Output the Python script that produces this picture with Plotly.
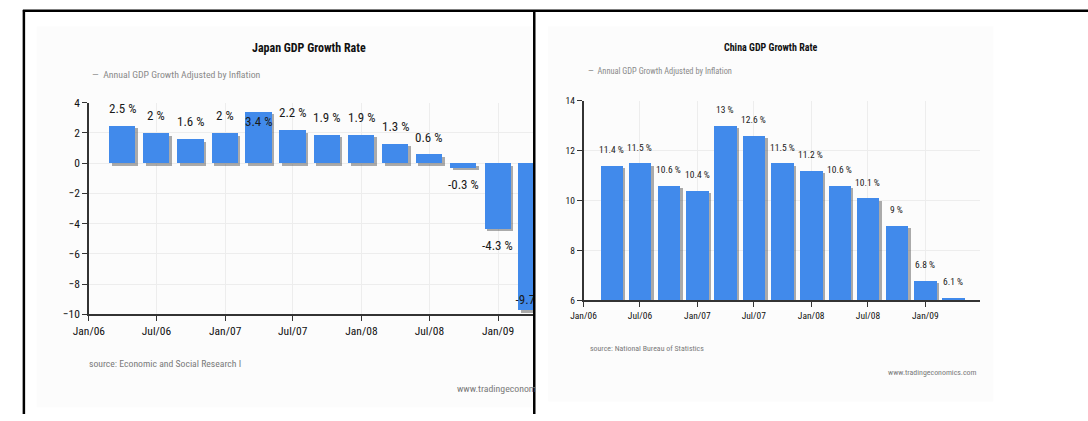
import plotly.graph_objects as go
import pandas as pd

W, H = 1088, 421

# ---------------- data ----------------
quarters = ["2006-03-31", "2006-06-30", "2006-09-30", "2006-12-31",
            "2007-03-31", "2007-06-30", "2007-09-30", "2007-12-31",
            "2008-03-31", "2008-06-30", "2008-09-30", "2008-12-31",
            "2009-03-31"]
japan_growth = [2.5, 2, 1.6, 2, 3.4, 2.2, 1.9, 1.9, 1.3, 0.6, -0.3, -4.3, -9.7]
china_growth = [11.4, 11.5, 10.6, 10.4, 13, 12.6, 11.5, 11.2, 10.6, 10.1, 9, 6.8, 6.1]
japan_yticks = [4, 2, 0, -2, -4, -6, -8, -10]
china_yticks = [14, 12, 10, 8, 6]

japan_title = "Japan GDP Growth Rate"
china_title = "China GDP Growth Rate"
series_name = "Annual GDP Growth Adjusted by Inflation"
japan_source = "source: Economic and Social Research I"
china_source = "source: National Bureau of Statistics"
japan_site = "www.tradingeconom"
china_site = "www.tradingeconomics.com"

# ---------------- style ----------------
FONT = "Roboto Condensed, Noto Sans Condensed, Liberation Sans Narrow, DejaVu Sans Condensed, Liberation Sans, sans-serif"
BAR = "#418AEB"
SHADOW = "rgba(70,70,70,0.45)"
GRID = "#ededed"
AXIS = "#333333"
DAY_MS = 86400000

panels = [
    dict(name="japan", vals=japan_growth, yticks=japan_yticks, xa="x", ya="y",
         px=(74, 526), py=(99, 318), xr=("2006-01-01", "2009-04-08"), yr=(-10, 4),
         barw=70, tick=11.5, lab=13, off_out=17, off_in=(-9.5, 11),
         title=japan_title, tpos=(297.5, 42.5), tsize=12,
         leg=(75, 69.5), lsize=9.8, src=japan_source, spos=(72, 369), ssize=9.7,
         site=japan_site, wpos=(446, 395), wanchor="left", wsize=9.8,
         bg=(21, 20, 525, 414)),
    dict(name="china", vals=china_growth, yticks=china_yticks, xa="x2", ya="y2",
         px=(576, 978), py=(97, 303.5), xr=("2006-01-01", "2009-06-24"), yr=(6, 14),
         barw=72, tick=9.5, lab=9.5, off_out=16, off_in=(-8, 9),
         title=china_title, tpos=(765.5, 41.5), tsize=10,
         leg=(578, 66.7), lsize=8.4, src=china_source, spos=(581, 353), ssize=7.9,
         site=china_site, wpos=(977, 378), wanchor="right", wsize=7.9,
         bg=(540, 20, 992, 408)),
]

fig = go.Figure()
annotations = []
shapes = []
layout_axes = {}

for i, p in enumerate(panels):
    x0, x1 = pd.Timestamp(p["xr"][0]), pd.Timestamp(p["xr"][1])
    ndays = (x1 - x0).days
    ppd = (p["px"][1] - p["px"][0]) / ndays
    ppu = (p["py"][1] - p["py"][0]) / (p["yr"][1] - p["yr"][0])
    dates = pd.to_datetime(quarters)
    width_ms = p["barw"] * DAY_MS
    shift_ms = (2.5 / ppd) * DAY_MS
    dy = 2.5 / ppu

    bar_text = []
    for d, v in zip(dates, p["vals"]):
        txt = f"{v:g} %"
        half_w_days = (len(txt) * p["lab"] * 0.42 / 2) / ppd
        clipped = d + pd.Timedelta(days=half_w_days) > x1
        if clipped:
            bar_text.append(txt)
            continue
        bar_text.append("")
        off_units = p["off_out"] / ppu
        if v >= 0:
            ys = p["off_out"] if v + off_units <= p["yr"][1] else p["off_in"][0]
        else:
            ys = -p["off_out"] if v - off_units >= p["yr"][0] else p["off_in"][1]
        annotations.append(dict(x=d, y=v, xref=p["xa"], yref=p["ya"], text=txt,
                                showarrow=False, yshift=ys, xanchor="center", yanchor="middle",
                                font=dict(family=FONT, size=p["lab"], color="#1a1a1a")))

    fig.add_trace(go.Bar(x=dates, y=p["vals"], base=-dy, xaxis=p["xa"], yaxis=p["ya"],
                         width=width_ms, offset=-width_ms / 2 + shift_ms,
                         marker=dict(color=SHADOW, line=dict(width=0)),
                         hoverinfo="skip", showlegend=False))
    fig.add_trace(go.Bar(x=dates, y=p["vals"], xaxis=p["xa"], yaxis=p["ya"],
                         width=width_ms, offset=-width_ms / 2,
                         marker=dict(color=BAR, line=dict(width=0)),
                         text=bar_text, textposition="inside", insidetextanchor="end",
                         textangle=0, constraintext="none", cliponaxis=True,
                         insidetextfont=dict(family=FONT, size=p["lab"], color="#1a1a1a"),
                         name=series_name, showlegend=False))

    sfx = "" if i == 0 else str(i + 1)
    layout_axes["xaxis" + sfx] = dict(
        type="date", domain=[p["px"][0] / W, p["px"][1] / W], range=list(p["xr"]),
        anchor=p["ya"], tickformat="%b/%y", dtick="M6", tick0="2006-01-01",
        ticks="outside", ticklen=5, tickcolor=AXIS, tickwidth=1,
        showline=True, linecolor=AXIS, linewidth=1.5,
        showgrid=True, gridcolor=GRID, gridwidth=1, zeroline=False,
        tickfont=dict(family=FONT, size=p["tick"], color="#111"), fixedrange=True)
    layout_axes["yaxis" + sfx] = dict(
        domain=[1 - p["py"][1] / H, 1 - p["py"][0] / H], range=list(p["yr"]),
        anchor=p["xa"], tickvals=p["yticks"], ticks="outside", ticklen=5,
        tickcolor=AXIS, tickwidth=1, showline=True, linecolor=AXIS, linewidth=1.5,
        showgrid=True, gridcolor=GRID, gridwidth=1, zeroline=False,
        tickfont=dict(family=FONT, size=p["tick"], color="#111"), fixedrange=True)

    bx0, by0, bx1, by1 = p["bg"]
    shapes.append(dict(type="rect", xref="paper", yref="paper",
                       x0=bx0 / W, x1=bx1 / W, y0=1 - by1 / H, y1=1 - by0 / H,
                       fillcolor="#fcfcfc", line=dict(width=0), layer="below"))
    annotations.append(dict(x=p["tpos"][0] / W, y=1 - p["tpos"][1] / H, xref="paper", yref="paper",
                            text=f"<b>{p['title']}</b>", showarrow=False, xanchor="center",
                            yanchor="middle", font=dict(family=FONT, size=p["tsize"], color="#111")))
    annotations.append(dict(x=p["leg"][0] / W, y=1 - p["leg"][1] / H, xref="paper", yref="paper",
                            text="—  " + series_name, showarrow=False, xanchor="left",
                            yanchor="middle", font=dict(family=FONT, size=p["lsize"], color="#8a8a8a")))
    annotations.append(dict(x=p["spos"][0] / W, y=1 - p["spos"][1] / H, xref="paper", yref="paper",
                            text=p["src"], showarrow=False, xanchor="left",
                            yanchor="middle", font=dict(family=FONT, size=p["ssize"], color="#7a7a7a")))
    annotations.append(dict(x=p["wpos"][0] / W, y=1 - p["wpos"][1] / H, xref="paper", yref="paper",
                            text=p["site"], showarrow=False, xanchor=p["wanchor"],
                            yanchor="middle", font=dict(family=FONT, size=p["wsize"], color="#7a7a7a")))

for (ax0, ay0, ax1, ay1) in [(7, 4, W, 4), (8, 3, 8, H), (526, 3, 526, H)]:
    shapes.append(dict(type="line", xref="paper", yref="paper",
                       x0=ax0 / W, x1=ax1 / W, y0=1 - ay0 / H, y1=1 - ay1 / H,
                       line=dict(color="black", width=2.5), layer="above"))

fig.update_layout(
    width=W, height=H, margin=dict(l=0, r=0, t=0, b=0),
    paper_bgcolor="white", plot_bgcolor="rgba(0,0,0,0)",
    barmode="overlay", bargap=0, showlegend=False,
    annotations=annotations, shapes=shapes, **layout_axes)

fig.write_html("out.html", config={"displayModeBar": False},
               post_script="document.body.style.margin='0px';document.body.style.padding='0px';")
